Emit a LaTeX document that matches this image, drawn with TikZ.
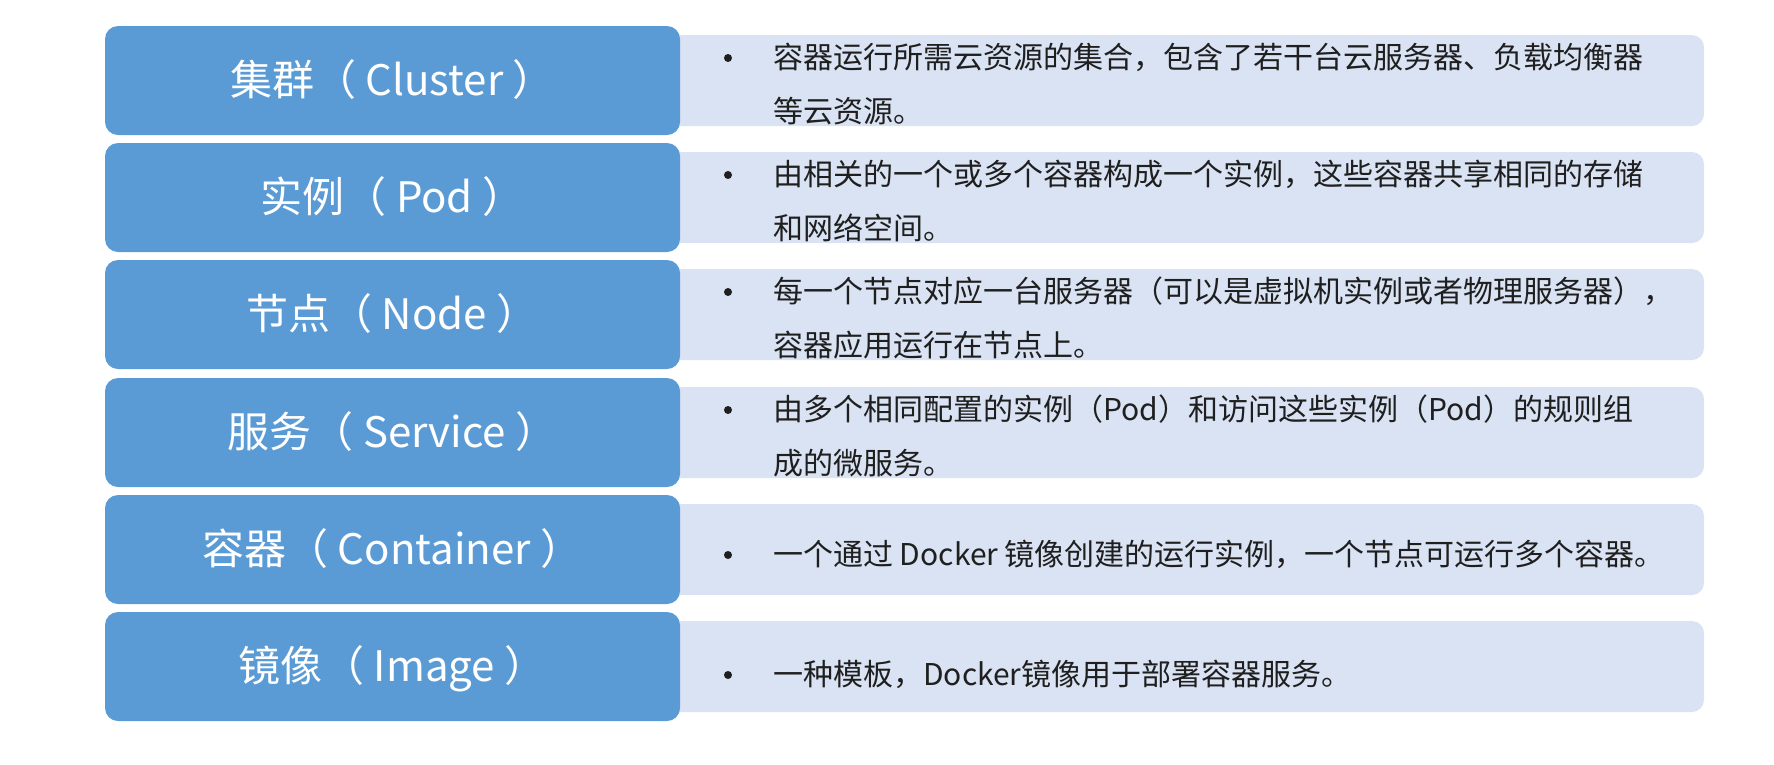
\documentclass[tikz,border=0pt]{standalone}
\usepackage{fontspec}
\setmainfont{Noto Sans CJK SC}
\definecolor{termblue}{HTML}{5B9BD5}
\definecolor{desclight}{HTML}{DAE3F3}

\begin{document}
\begin{tikzpicture}[
        x = 1pt, y = -1pt,
        line join=round,
        termstyle/.style = {fill=termblue, text=white, rounded corners=13pt, minimum width=575pt, minimum height=109pt, inner sep=0pt, text height=35.7pt, text depth=6.3pt, font=\fontsize{42}{50}\selectfont},
        descstyle/.style = {fill=desclight, rounded corners=12pt, minimum width=1044pt, minimum height=91pt, inner sep=0pt},
        textstyle/.style = {anchor=west, inner sep=0pt, text=black!88, text height=25.5pt, text depth=4.5pt, font=\fontsize{30}{36}\selectfont},
        dotstyle/.style = {circle, fill=black!88, inner sep=0pt, minimum size=8pt}
    ]

    \useasboundingbox (0,0) rectangle (1774,764);

    % desenhando as caixas claras por baixo das caixas azuis

    \node[descstyle] (d1) at (1182, 80.5) {};
    \node[descstyle] (d2) at (1182, 197.5) {};
    \node[descstyle] (d3) at (1182, 314.5) {};
    \node[descstyle] (d4) at (1182, 432.5) {};
    \node[descstyle] (d5) at (1182, 549.5) {};
    \node[descstyle] (d6) at (1182, 666.5) {};

    \node[termstyle] (t1) at (392.5, 80.5) {集群（ Cluster ）};
    \node[termstyle] (t2) at (392.5, 197.5) {实例（ Pod ）};
    \node[termstyle] (t3) at (392.5, 314.5) {节点（ Node ）};
    \node[termstyle] (t4) at (392.5, 432.5) {服务（ Service ）};
    \node[termstyle] (t5) at (392.5, 549.5) {容器（ Container ）};
    \node[termstyle] (t6) at (392.5, 666.5) {镜像（ Image ）};

    \node[dotstyle] (b1) at (728, 58) {};
    \node[dotstyle] (b2) at (728, 175) {};
    \node[dotstyle] (b3) at (728, 292) {};
    \node[dotstyle] (b4) at (728, 410) {};
    \node[dotstyle] (b5) at (728, 555) {};
    \node[dotstyle] (b6) at (728, 675) {};

    \node[textstyle] (l1a) at (773, 58) {容器运行所需云资源的集合，包含了若干台云服务器、负载均衡器};
    \node[textstyle] (l1b) at (773, 112) {等云资源。};
    \node[textstyle] (l2a) at (773, 175) {由相关的一个或多个容器构成一个实例，这些容器共享相同的存储};
    \node[textstyle] (l2b) at (773, 229) {和网络空间。};
    \node[textstyle] (l3a) at (773, 292) {每一个节点对应一台服务器（可以是虚拟机实例或者物理服务器），};
    \node[textstyle] (l3b) at (773, 346) {容器应用运行在节点上。};
    \node[textstyle] (l4a) at (773, 410) {由多个相同配置的实例（Pod）和访问这些实例（Pod）的规则组};
    \node[textstyle] (l4b) at (773, 464) {成的微服务。};
    \node[textstyle] (l5a) at (773, 555) {一个通过 Docker 镜像创建的运行实例，一个节点可运行多个容器。};
    \node[textstyle] (l6a) at (773, 675) {一种模板，Docker镜像用于部署容器服务。};

\end{tikzpicture}
\end{document}
